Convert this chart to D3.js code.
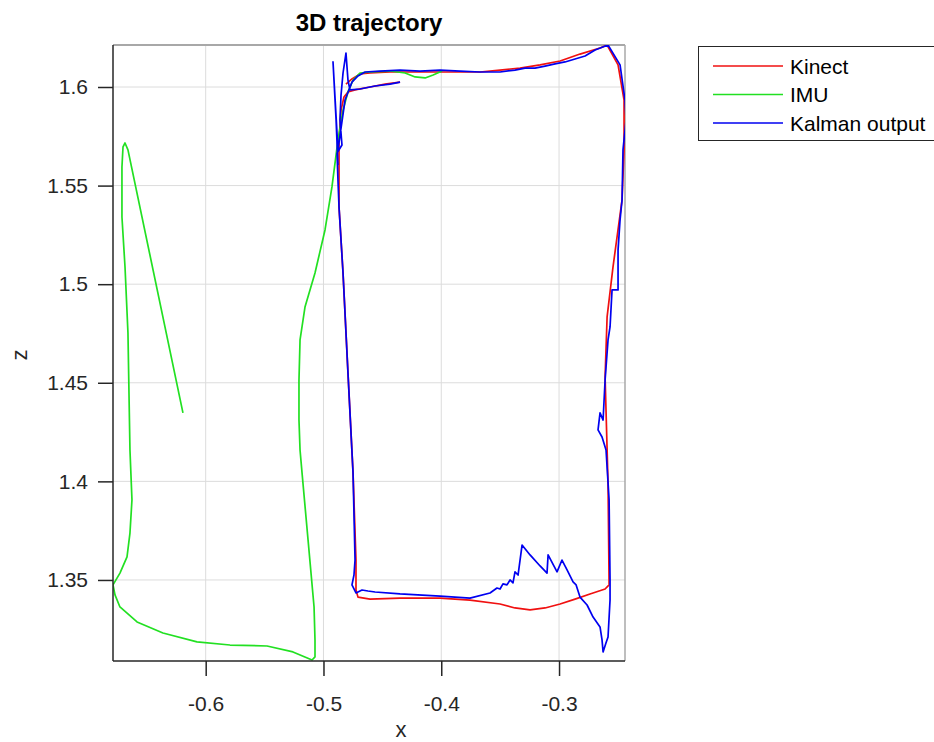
<!DOCTYPE html>
<html lang="en">
<head>
<meta charset="UTF-8">
<title>3D trajectory</title>
<script src="https://d3js.org/d3.v7.min.js"></script>
<style>
  body { margin: 0; background: #fff; }
  svg { display: block; font-family: "Liberation Sans", Arial, sans-serif; }
  .grid line { stroke: #dcdcdc; stroke-width: 1; }
  .tick-label { font-size: 21px; fill: #262626; }
</style>
</head>
<body>
<div id="chart"></div>
<script>
// axis ticks
const xTicks = [-0.6, -0.5, -0.4, -0.3];
const xTickLabels = ["-0.6", "-0.5", "-0.4", "-0.3"];
const zTicks = [1.35, 1.4, 1.45, 1.5, 1.55, 1.6];
const zTickLabels = ["1.35", "1.4", "1.45", "1.5", "1.55", "1.6"];

// series names / colours
const seriesNames = ["Kinect", "IMU", "Kalman output"];
const seriesColors = ["#f01010", "#22e022", "#0000f0"];

// Kinect trajectory [x, z]
const kinect = [
  [-0.4350, 1.6025], [-0.4477, 1.6015], [-0.4605, 1.6000], [-0.4732, 1.5985],
  [-0.4792, 1.5975], [-0.4826, 1.5949], [-0.4851, 1.5883], [-0.4868, 1.5731],
  [-0.4868, 1.5391], [-0.4834, 1.5057], [-0.4792, 1.4550], [-0.4749, 1.4043],
  [-0.4724, 1.3601], [-0.4724, 1.3449], [-0.4707, 1.3413], [-0.4605, 1.3403],
  [-0.4350, 1.3408], [-0.4010, 1.3408], [-0.3756, 1.3398], [-0.3501, 1.3378],
  [-0.3374, 1.3358], [-0.3246, 1.3348], [-0.3119, 1.3358], [-0.2991, 1.3378],
  [-0.2864, 1.3403], [-0.2737, 1.3429], [-0.2609, 1.3454], [-0.2575, 1.3475],
  [-0.2584, 1.3992], [-0.2609, 1.4529], [-0.2592, 1.4834], [-0.2542, 1.5087],
  [-0.2465, 1.5427], [-0.2448, 1.5681], [-0.2448, 1.5934], [-0.2499, 1.6112],
  [-0.2592, 1.6213], [-0.2652, 1.6198], [-0.2822, 1.6167], [-0.2991, 1.6132],
  [-0.3161, 1.6112], [-0.3331, 1.6096], [-0.3501, 1.6086], [-0.3671, 1.6076],
  [-0.3926, 1.6076], [-0.4180, 1.6076], [-0.4435, 1.6076], [-0.4605, 1.6071],
  [-0.4690, 1.6066], [-0.4758, 1.6041], [-0.4809, 1.6015]
];

// IMU trajectory [x, z]
const imu = [
  [-0.3993, 1.6081], [-0.4069, 1.6061], [-0.4137, 1.6046], [-0.4222, 1.6051],
  [-0.4307, 1.6071], [-0.4435, 1.6081], [-0.4605, 1.6076], [-0.4690, 1.6071],
  [-0.4749, 1.6035], [-0.4792, 1.5975], [-0.4834, 1.5883], [-0.4877, 1.5731],
  [-0.4928, 1.5493], [-0.4987, 1.5275], [-0.5072, 1.5057], [-0.5157, 1.4884],
  [-0.5199, 1.4717], [-0.5208, 1.4514], [-0.5208, 1.4311], [-0.5199, 1.4159],
  [-0.5182, 1.4043], [-0.5131, 1.3703], [-0.5080, 1.3363], [-0.5072, 1.3196],
  [-0.5072, 1.3110], [-0.5097, 1.3094], [-0.5259, 1.3135], [-0.5479, 1.3165],
  [-0.5794, 1.3170], [-0.6074, 1.3186], [-0.6363, 1.3231], [-0.6583, 1.3287],
  [-0.6728, 1.3363], [-0.6770, 1.3424], [-0.6787, 1.3475], [-0.6728, 1.3535],
  [-0.6668, 1.3617], [-0.6643, 1.3738], [-0.6626, 1.3906], [-0.6643, 1.4159],
  [-0.6660, 1.4753], [-0.6685, 1.5087], [-0.6711, 1.5341], [-0.6711, 1.5594],
  [-0.6702, 1.5696], [-0.6685, 1.5716], [-0.6660, 1.5681], [-0.6193, 1.4347]
];

// Kalman filter output [x, z]
const kalman = [
  [-0.4350, 1.6025], [-0.4435, 1.6015], [-0.4562, 1.6005], [-0.4690, 1.5990],
  [-0.4775, 1.5985], [-0.4792, 1.6035], [-0.4809, 1.6172], [-0.4834, 1.6071],
  [-0.4851, 1.5959], [-0.4860, 1.5833], [-0.4843, 1.5706], [-0.4885, 1.5665],
  [-0.4877, 1.5528], [-0.4868, 1.5391], [-0.4834, 1.5057], [-0.4792, 1.4550],
  [-0.4749, 1.4043], [-0.4732, 1.3601], [-0.4741, 1.3525], [-0.4758, 1.3475],
  [-0.4724, 1.3434], [-0.4673, 1.3449], [-0.4622, 1.3444], [-0.4562, 1.3439],
  [-0.4350, 1.3429], [-0.4010, 1.3418], [-0.3756, 1.3408], [-0.3586, 1.3434],
  [-0.3527, 1.3459], [-0.3501, 1.3454], [-0.3476, 1.3480], [-0.3442, 1.3475],
  [-0.3416, 1.3500], [-0.3391, 1.3485], [-0.3374, 1.3541], [-0.3348, 1.3525],
  [-0.3314, 1.3677], [-0.3246, 1.3627], [-0.3161, 1.3571], [-0.3102, 1.3535],
  [-0.3093, 1.3627], [-0.3017, 1.3541], [-0.2975, 1.3601], [-0.2932, 1.3551],
  [-0.2881, 1.3490], [-0.2855, 1.3475], [-0.2822, 1.3413], [-0.2762, 1.3373],
  [-0.2711, 1.3312], [-0.2652, 1.3262], [-0.2635, 1.3196], [-0.2626, 1.3135],
  [-0.2601, 1.3181], [-0.2584, 1.3211], [-0.2567, 1.3398], [-0.2567, 1.3500],
  [-0.2575, 1.3906], [-0.2601, 1.4159], [-0.2635, 1.4225], [-0.2669, 1.4261],
  [-0.2652, 1.4347], [-0.2626, 1.4311], [-0.2609, 1.4514], [-0.2584, 1.4717],
  [-0.2567, 1.4783], [-0.2550, 1.4971], [-0.2499, 1.4971], [-0.2499, 1.5173],
  [-0.2482, 1.5326], [-0.2465, 1.5427], [-0.2457, 1.5681], [-0.2431, 1.5833],
  [-0.2440, 1.5934], [-0.2482, 1.6112], [-0.2584, 1.6213], [-0.2694, 1.6188],
  [-0.2779, 1.6157], [-0.2864, 1.6142], [-0.2949, 1.6127], [-0.3034, 1.6117],
  [-0.3119, 1.6106], [-0.3204, 1.6096], [-0.3289, 1.6096], [-0.3374, 1.6086],
  [-0.3501, 1.6076], [-0.3671, 1.6076], [-0.3841, 1.6081], [-0.4010, 1.6086],
  [-0.4180, 1.6081], [-0.4350, 1.6086], [-0.4520, 1.6081], [-0.4647, 1.6076],
  [-0.4707, 1.6056], [-0.4758, 1.6025], [-0.4817, 1.5934], [-0.4877, 1.5681],
  [-0.4919, 1.6127], [-0.4893, 1.5833], [-0.4877, 1.5604]
];

const W = 934, H = 742;
const pL = 113, pR = 625, pT = 45, pB = 661;

const svg = d3.select("#chart").append("svg")
  .attr("width", W).attr("height", H);

const x = d3.scaleLinear().domain([-0.6787, -0.2440]).range([pL, pR]);
const z = d3.scaleLinear().domain([1.3089, 1.6213]).range([pB, pT]);

// grid
const grid = svg.append("g").attr("class", "grid");
grid.selectAll(".gx").data(xTicks).enter().append("line")
  .attr("x1", d => x(d)).attr("x2", d => x(d))
  .attr("y1", pT).attr("y2", pB);
grid.selectAll(".gz").data(zTicks).enter().append("line")
  .attr("x1", pL).attr("x2", pR)
  .attr("y1", d => z(d)).attr("y2", d => z(d));

// top / right box edges (lighter, like the reference)
svg.append("line").attr("x1", pL).attr("x2", pR).attr("y1", pT).attr("y2", pT)
  .attr("stroke", "#a8a8a8").attr("stroke-width", 2);
svg.append("line").attr("x1", pR).attr("x2", pR).attr("y1", pT).attr("y2", pB)
  .attr("stroke", "#a8a8a8").attr("stroke-width", 1.5);

// data lines, clipped to plot box
svg.append("clipPath").attr("id", "clip").append("rect")
  .attr("x", pL).attr("y", pT).attr("width", pR - pL).attr("height", pB - pT);

const line = d3.line().x(d => x(d[0])).y(d => z(d[1]));
const plot = svg.append("g").attr("clip-path", "url(#clip)");
[kinect, imu, kalman].forEach((s, i) => {
  plot.append("path").datum(s)
    .attr("d", line)
    .attr("fill", "none")
    .attr("stroke", seriesColors[i])
    .attr("stroke-width", 1.7)
    .attr("stroke-linejoin", "round");
});

// axes
const xAxis = d3.axisBottom(x).tickValues(xTicks)
  .tickFormat((d, i) => xTickLabels[i]).tickSizeInner(15).tickSizeOuter(0).tickPadding(20);
const zAxis = d3.axisLeft(z).tickValues(zTicks)
  .tickFormat((d, i) => zTickLabels[i]).tickSizeInner(15).tickSizeOuter(0).tickPadding(10);

const gx = svg.append("g").attr("transform", `translate(0,${pB})`).call(xAxis);
const gz = svg.append("g").attr("transform", `translate(${pL},0)`).call(zAxis);
[gx, gz].forEach(g => {
  g.select(".domain").attr("stroke", "#262626").attr("stroke-width", 1.5);
  g.selectAll(".tick line").attr("stroke", "#262626").attr("stroke-width", 1.5);
  g.selectAll(".tick text").attr("class", "tick-label").attr("fill", "#262626")
    .style("font-family", "'Liberation Sans', Arial, sans-serif");
});
gx.select(".domain").attr("d", `M${pL},0H${pR}`);
gz.select(".domain").attr("d", `M0,${pT}V${pB}`);

// title and axis labels
svg.append("text").attr("x", (pL + pR) / 2).attr("y", 31)
  .attr("text-anchor", "middle").attr("font-weight", "bold")
  .attr("font-size", 24).attr("fill", "#000").text("3D trajectory");
svg.append("text").attr("x", 401).attr("y", 737)
  .attr("text-anchor", "middle").attr("font-size", 22).attr("fill", "#262626").text("x");
svg.append("text").attr("transform", "translate(27,355) rotate(-90)")
  .attr("text-anchor", "middle").attr("font-size", 22).attr("fill", "#262626").text("z");

// legend
const legend = svg.append("g");
legend.append("rect").attr("x", 698.5).attr("y", 46.5).attr("width", 250).attr("height", 94)
  .attr("fill", "#fff").attr("stroke", "#262626").attr("stroke-width", 1);
seriesNames.forEach((name, i) => {
  const ly = 66 + i * 28.5;
  legend.append("line").attr("x1", 713).attr("x2", 783).attr("y1", ly).attr("y2", ly)
    .attr("stroke", seriesColors[i]).attr("stroke-width", 1.7);
  legend.append("text").attr("x", 790).attr("y", ly + 7.5)
    .attr("font-size", 21).attr("fill", "#000").text(name);
});
</script>
</body>
</html>
